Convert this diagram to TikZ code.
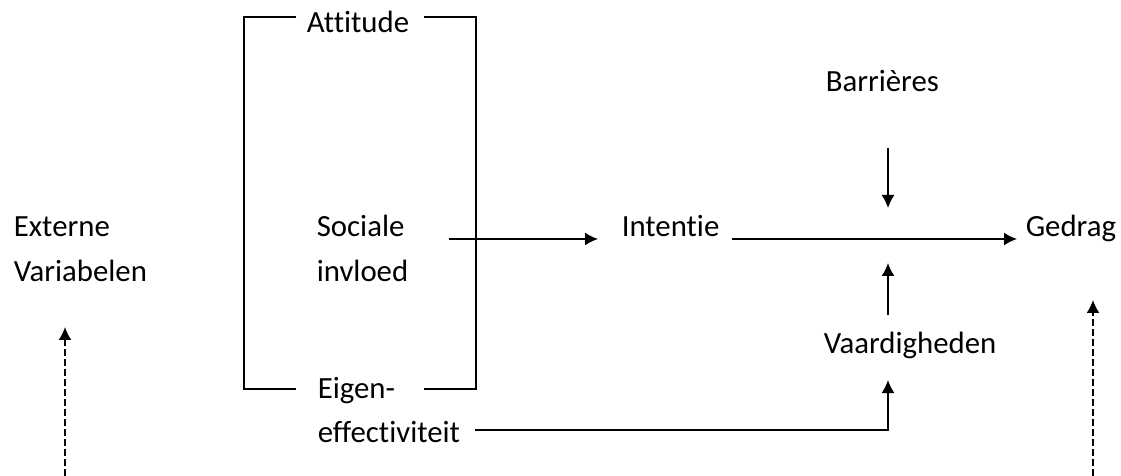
\documentclass[tikz,border=0pt]{standalone}
\usepackage{fontspec}
\setmainfont{Carlito}[Ligatures=CommonOff]
\usetikzlibrary{arrows.meta}

\begin{document}
\begin{tikzpicture}[x=0.5pt,y=-0.5pt,>={Latex[length=6.5pt,width=6.5pt]},
		line width=0.8pt,
		txt/.style={anchor=base west,inner sep=0pt,font=\fontsize{15.4}{18}\selectfont},
		dashline/.style={dash pattern=on 3.5pt off 1.5pt}]
	\useasboundingbox (0,0) rectangle (1121,476);

	% teksten
	\node[txt] (ext) at (13,237) {Externe};
	\node[txt] (var) at (13,282) {Variabelen};
	\node[txt] (att) at (306,33) {Attitude};
	\node[txt] (soc) at (316,237) {Sociale};
	\node[txt] (inv) at (316,282) {invloed};
	\node[txt] (eig) at (317,398) {Eigen-};
	\node[txt] (eff) at (317,442) {effectiviteit};
	\node[txt] (int) at (621,237) {Intentie};
	\node[txt] (ged) at (1025,237) {Gedrag};
	\node[txt] (bar) at (825,92) {Barrières};
	\node[txt] (vaa) at (823,353) {Vaardigheden};

	% punten
	\coordinate (socout) at (449,239);
	\coordinate (intout) at (732,239);
	\coordinate (bartop) at (888,148);
	\coordinate (kruis) at (888,239);
	\coordinate (effout) at (475,430);
	\coordinate (hoek) at (888,430);
	\coordinate (extlow) at (65,476);
	\coordinate (exttop) at (65,327);
	\coordinate (gedlow) at (1093,476);
	\coordinate (gedtop) at (1093,300);

	% haak
	\draw (296,17) -- (244,17) -- (244,389) -- (296,389);
	\draw (424,17) -- (476,17) -- (476,389) -- (424,389);

	% pijlen
	\draw[->] (socout) -- ([xshift=-11.5pt]int.west |- socout);
	\draw[->] (intout) -- ([xshift=-4pt]ged.west |- intout);
	\draw[->] (bartop) -- ([yshift=15.5pt]kruis);
	\draw[->] ([yshift=-38pt]kruis) -- ([yshift=-12pt]kruis);
	\draw[->] (effout) -- (hoek) -- ([yshift=25pt]hoek);

	\draw[->,dashline] (extlow) -- (exttop);
	\draw[->,dashline] (gedlow) -- (gedtop);
\end{tikzpicture}
\end{document}
